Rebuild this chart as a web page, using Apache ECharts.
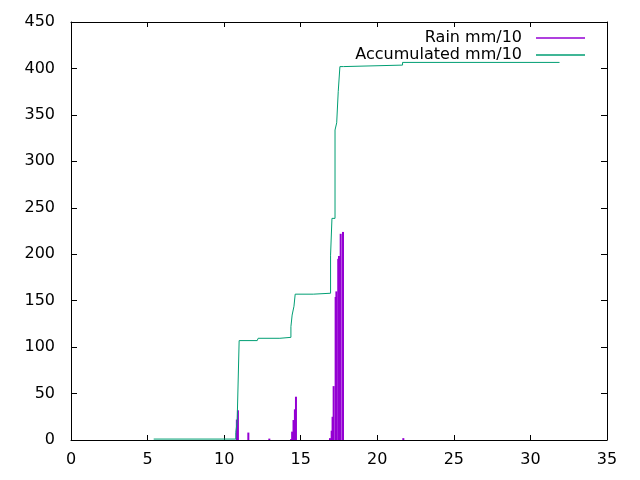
<!DOCTYPE html>
<html>
<head>
<meta charset="utf-8">
<script src="https://cdn.jsdelivr.net/npm/echarts@6/dist/echarts.min.js"></script>
<style>
html,body{margin:0;padding:0;background:#fff;}
#chart{width:640px;height:480px;}
</style>
</head>
<body>
<div id="chart"></div>
<script>
// Rain impulses (x = hours, value = mm/10)
var rainX = [10.83, 10.9, 11.58, 12.95, 14.37, 14.44, 14.53, 14.62, 14.69, 16.91, 17.02, 17.08, 17.15, 17.28, 17.33, 17.45, 17.5, 17.61, 17.76, 21.7];
var rainY = [22, 32, 8, 1.5, 1, 9, 21.5, 33, 46.6, 2, 10, 25, 58, 154, 160, 195, 198, 222, 224, 2];
// Accumulated (value becomes y at x)
var accX = [5.4, 10.76, 10.85, 10.98, 12.16, 12.22, 13.64, 14.36, 14.44, 14.56, 14.64, 15.82, 16.95, 17.04, 17.24, 17.35, 17.45, 17.56, 17.8, 21.65, 31.9];
var accY = [1, 8, 20, 107, 108, 109.5, 110.5, 122, 134.5, 144, 157, 158, 199, 238.6, 333.7, 341.5, 375, 402, 403.6, 406.5, 406.5];
var xTicks = [0, 5, 10, 15, 20, 25, 30, 35];
var yTicks = [0, 50, 100, 150, 200, 250, 300, 350, 400, 450];
var rainName = 'Rain mm/10';
var accName = 'Accumulated mm/10';

var FONT = 'DejaVu Sans';
var rainData = rainX.map(function (x, i) { return [x, rainY[i]]; });
var accData = accX.map(function (x, i) { return [x, accY[i]]; });

function xAxisDef(pos, labels) {
  return {
    type: 'value', position: pos, min: xTicks[0], max: xTicks[xTicks.length - 1], interval: 5,
    axisLine: { show: true, onZero: false, lineStyle: { color: '#000', width: 1 } },
    axisTick: { show: true, inside: true, length: 5, lineStyle: { color: '#000' } },
    axisLabel: { show: labels, color: '#000', fontFamily: FONT, fontSize: 16, margin: 12 },
    splitLine: { show: false }
  };
}
function yAxisDef(pos, labels) {
  return {
    type: 'value', position: pos, min: yTicks[0], max: yTicks[yTicks.length - 1], interval: 50,
    axisLine: { show: true, onZero: false, lineStyle: { color: '#000', width: 1 } },
    axisTick: { show: true, inside: true, length: 6, lineStyle: { color: '#000' } },
    axisLabel: { show: labels, color: '#000', fontFamily: FONT, fontSize: 16, margin: 16 },
    splitLine: { show: false }
  };
}
function legendDef(name, top) {
  return {
    data: [name], right: 50, top: top, align: 'right', orient: 'vertical',
    icon: 'rect', itemWidth: 49, itemHeight: 1.3,
    selectedMode: false,
    textStyle: { color: '#000', fontFamily: FONT, fontSize: 16, padding: [0, 9, 0, 0] }
  };
}

var chart = echarts.init(document.getElementById('chart'), null, { renderer: 'canvas' });
chart.setOption({
  animation: false,
  backgroundColor: '#fff',
  grid: { left: 71, right: 33, top: 22, bottom: 40 },
  xAxis: [xAxisDef('bottom', true), xAxisDef('top', false)],
  yAxis: [yAxisDef('left', true), yAxisDef('right', false)],
  legend: [legendDef(rainName, 25), legendDef(accName, 42)],
  series: [
    {
      name: rainName, type: 'bar', xAxisIndex: 0, yAxisIndex: 0,
      data: rainData, barWidth: 2, barGap: '-100%',
      itemStyle: { color: '#9400d3' }
    },
    {
      name: accName, type: 'line', xAxisIndex: 0, yAxisIndex: 0,
      data: accData, step: 'end', showSymbol: false, symbol: 'none',
      lineStyle: { color: '#009e73', width: 1 },
      itemStyle: { color: '#009e73' }
    }
  ]
});
</script>
</body>
</html>
